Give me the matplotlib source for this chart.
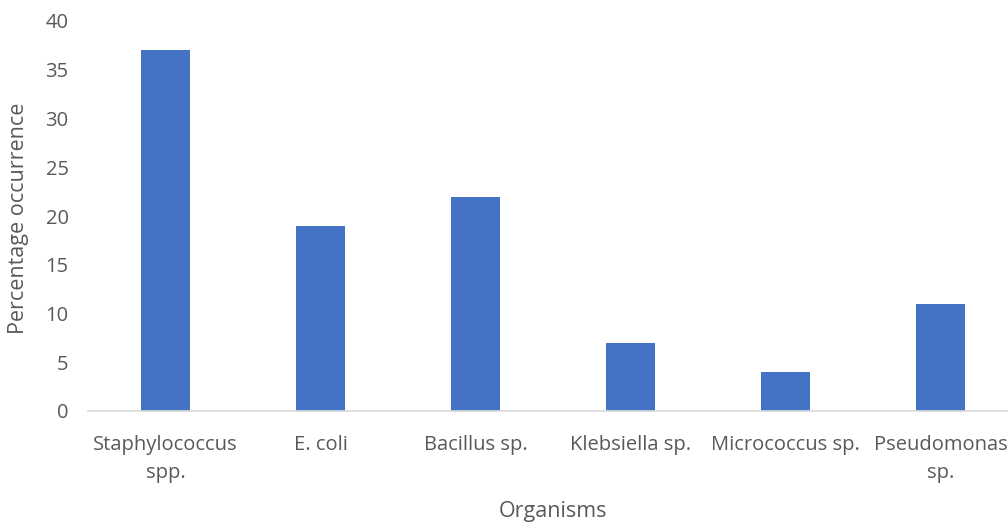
import matplotlib.pyplot as plt

organisms = ["Staphylococcus\nspp.", "E. coli", "Bacillus sp.", "Klebsiella sp.",
             "Micrococcus sp.", "Pseudomonas\nsp."]
occurrence = [37, 19, 22, 7, 4, 11]

plt.rcParams['font.family'] = ['Open Sans', 'DejaVu Sans']
grey = '#595959'

fig = plt.figure(figsize=(10.08, 5.23), dpi=100)
ax = fig.add_axes([88 / 1008, 112 / 523, 930 / 1008, 390 / 523])

x = range(len(organisms))
ax.bar(x, occurrence, width=0.31, color='#4472C4')

ax.set_xlim(-0.5, len(organisms) - 0.5)
ax.set_ylim(0, 40)
ax.set_yticks(range(0, 41, 5))
ax.set_xticks(list(x))
ax.set_xticklabels(organisms, fontsize=14.5, color=grey, linespacing=1.55)
ax.tick_params(axis='y', labelsize=14.5, labelcolor=grey, length=0, pad=14)
ax.tick_params(axis='x', length=0, pad=17)

for s in ['top', 'right', 'left']:
    ax.spines[s].set_visible(False)
ax.spines['bottom'].set_color('#D9D9D9')
ax.spines['bottom'].set_linewidth(1.2)

fig.text(19 / 1008, 112 / 523 + 0.5 * 390 / 523 - 0.005, 'Percentage occurrence',
         fontsize=15.5, color=grey, rotation=90, ha='center', va='center')
fig.text(553 / 1008, 1 - 511 / 523, 'Organisms', fontsize=15.5, color=grey,
         ha='center', va='center')

fig.savefig('out.png', dpi=100)
